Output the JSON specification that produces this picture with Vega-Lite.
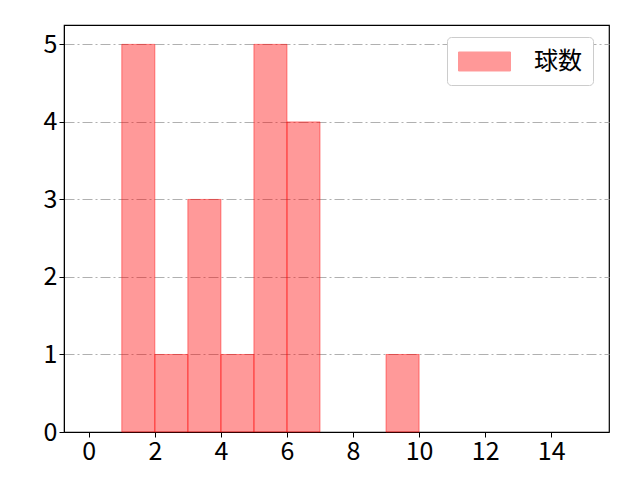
{
  "$schema": "https://vega.github.io/schema/vega-lite/v6.json",
  "width": 545,
  "height": 407,
  "autosize": "none",
  "padding": {"left": 64, "top": 25, "right": 31, "bottom": 48},
  "background": "white",
  "data": {
    "values": [
      {"bin_start": 1, "bin_end": 2, "count": 5, "series": "球数"},
      {"bin_start": 2, "bin_end": 3, "count": 1, "series": "球数"},
      {"bin_start": 3, "bin_end": 4, "count": 3, "series": "球数"},
      {"bin_start": 4, "bin_end": 5, "count": 1, "series": "球数"},
      {"bin_start": 5, "bin_end": 6, "count": 5, "series": "球数"},
      {"bin_start": 6, "bin_end": 7, "count": 4, "series": "球数"},
      {"bin_start": 9, "bin_end": 10, "count": 1, "series": "球数"}
    ]
  },
  "mark": {
    "type": "rect",
    "fillOpacity": 0.4,
    "stroke": "red",
    "strokeOpacity": 0.45,
    "strokeWidth": 1
  },
  "encoding": {
    "x": {
      "field": "bin_start",
      "type": "quantitative",
      "scale": {"domain": [-0.75, 15.75], "nice": false, "zero": false},
      "axis": {"values": [0, 2, 4, 6, 8, 10, 12, 14], "grid": false, "title": null}
    },
    "x2": {"field": "bin_end"},
    "y": {
      "field": "count",
      "type": "quantitative",
      "scale": {"domain": [0, 5.25], "nice": false},
      "axis": {"values": [0, 1, 2, 3, 4, 5], "grid": true, "title": null}
    },
    "y2": {"datum": 0},
    "fill": {
      "field": "series",
      "type": "nominal",
      "scale": {"domain": ["球数"], "range": ["red"]},
      "legend": {
        "title": null,
        "orient": "none",
        "legendX": 383,
        "legendY": 12,
        "padding": 11,
        "fillColor": "white",
        "strokeColor": "#cccccc",
        "cornerRadius": 4,
        "symbolType": "M-1,-0.73H3V0.73H-1Z",
        "symbolSize": 676,
        "symbolOpacity": 0.4,
        "symbolStrokeColor": "red",
        "symbolStrokeWidth": 1,
        "labelFontSize": 24,
        "labelOffset": 49,
        "labelFont": "Noto Sans CJK JP",
        "labelColor": "black"
      }
    }
  },
  "config": {
    "view": {"stroke": "black", "strokeWidth": 1.2},
    "axis": {
      "labelFont": "Noto Sans CJK JP",
      "labelFontSize": 25,
      "labelColor": "black",
      "labelPadding": 2,
      "tickColor": "black",
      "tickSize": 5,
      "domainColor": "black",
      "gridColor": "#b0b0b0",
      "gridDash": [10, 3, 2, 3],
      "gridWidth": 1
    }
  }
}
